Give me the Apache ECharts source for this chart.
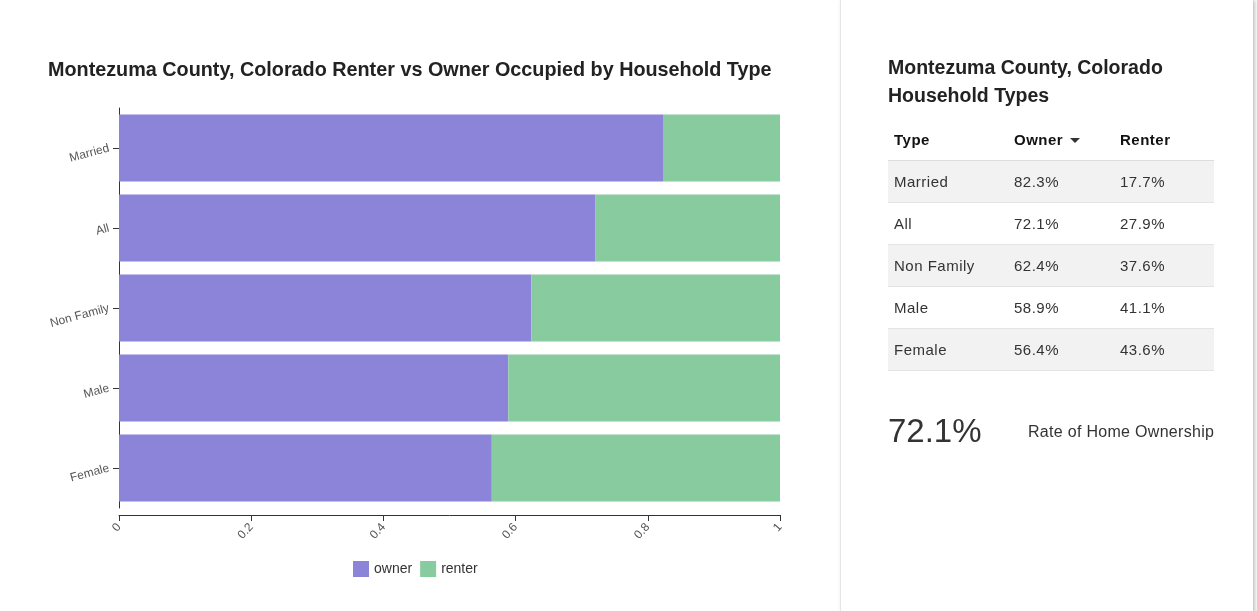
<!DOCTYPE html>
<html>
<head>
<meta charset="utf-8">
<script src="https://cdn.jsdelivr.net/npm/echarts@6/dist/echarts.min.js"></script>
<style>
  html, body { margin: 0; padding: 0; background: #fff; font-family: "Liberation Sans", Arial, sans-serif; }
  #wrap { position: relative; width: 1257px; height: 611px; overflow: hidden; }
  #chart { position: absolute; left: 0; top: 0; width: 840px; height: 611px; }
  #panel { position: absolute; left: 840px; top: 0; width: 412px; height: 620px;
    border-left: 1px solid #e6e6e6; box-shadow: 2px 0 4px rgba(0,0,0,0.25); background: #fff; }
  #panel h2 { position: absolute; left: 47px; top: 53px; margin: 0; font-size: 19.5px; line-height: 28px; color: #222; font-weight: bold; white-space: nowrap; }
  #tbl { position: absolute; left: 47px; top: 118px; width: 326px; border-collapse: collapse; font-size: 15px; letter-spacing: 0.5px; color: #333; }
  #tbl th { text-align: left; font-weight: bold; height: 42px; padding: 0 0 0 6px; color: #111; border-bottom: 1px solid #ddd; }
  #tbl td { height: 41px; padding: 0 0 0 6px; border-bottom: 1px solid #e4e4e4; }
  #tbl tr.odd td { background: #f2f2f2; }
  .caret { display: inline-block; width: 0; height: 0; border-left: 5px solid transparent; border-right: 5px solid transparent; border-top: 5px solid #333; margin-left: 7px; vertical-align: middle; }
  #big { position: absolute; left: 47px; top: 412px; font-size: 33px; color: #333; }
  #rate { position: absolute; left: 187px; top: 423px; font-size: 16px; letter-spacing: 0.3px; color: #333; white-space: nowrap; }
</style>
</head>
<body>
<div id="wrap">
  <div id="chart"></div>
  <div id="panel">
    <h2>Montezuma County, Colorado<br>Household Types</h2>
    <table id="tbl"></table>
    <div id="big"></div>
    <div id="rate">Rate of Home Ownership</div>
  </div>
</div>
<script>
const categories = ['Married', 'All', 'Non Family', 'Male', 'Female'];
const owner = [0.823, 0.721, 0.624, 0.589, 0.564];
const renter = [0.177, 0.279, 0.376, 0.411, 0.436];
const homeOwnership = 0.721;

const fmt = (v) => (v * 100).toFixed(1) + '%';

// side table
const tbl = document.getElementById('tbl');
let html = '<tr><th style="width:114px">Type</th><th style="width:100px">Owner<span class="caret"></span></th><th>Renter</th></tr>';
categories.forEach((c, i) => {
  html += '<tr class="' + (i % 2 === 0 ? 'odd' : '') + '"><td>' + c + '</td><td>' + fmt(owner[i]) + '</td><td>' + fmt(renter[i]) + '</td></tr>';
});
tbl.innerHTML = html;
document.getElementById('big').textContent = fmt(homeOwnership);

const chart = echarts.init(document.getElementById('chart'));
chart.setOption({
  animation: false,
  title: {
    text: 'Montezuma County, Colorado Renter vs Owner Occupied by Household Type',
    left: 43,
    top: 56,
    textStyle: { fontSize: 19.8, fontWeight: 'bold', color: '#222', fontFamily: 'Liberation Sans' },
  },
  legend: {
    left: 348,
    top: 556,
    itemWidth: 16,
    itemHeight: 16,
    itemGap: 8,
    icon: 'rect',
    textStyle: { fontSize: 14, color: '#333', fontFamily: 'Liberation Sans' },
    data: ['owner', 'renter'],
  },
  grid: { left: 119, right: 60, top: 108, height: 400, containLabel: false },
  xAxis: {
    type: 'value',
    min: 0,
    max: 1,
    interval: 0.2,
    position: 'bottom',
    offset: 7,
    axisLine: { show: true, lineStyle: { color: '#333' } },
    axisTick: { show: true, length: 6, lineStyle: { color: '#333' } },
    splitLine: { show: false },
    axisLabel: { rotate: 48, color: '#555', fontSize: 12, fontFamily: 'Liberation Sans', margin: 10,
      formatter: (v) => String(+v.toFixed(1)) },
  },
  yAxis: {
    type: 'category',
    inverse: true,
    data: categories,
    axisLine: { show: true, lineStyle: { color: '#333' } },
    axisTick: { show: true, alignWithLabel: true, length: 6, lineStyle: { color: '#333' } },
    axisLabel: { rotate: 15, color: '#555', fontSize: 12, fontFamily: 'Liberation Sans', margin: 10 },
  },
  series: [
    {
      name: 'owner',
      type: 'bar',
      stack: 'total',
      barCategoryGap: '16%',
      itemStyle: { color: '#8b84d9' },
      data: owner,
    },
    {
      name: 'renter',
      type: 'bar',
      stack: 'total',
      itemStyle: { color: '#88cb9e' },
      data: renter,
    },
  ],
});
</script>
</body>
</html>
